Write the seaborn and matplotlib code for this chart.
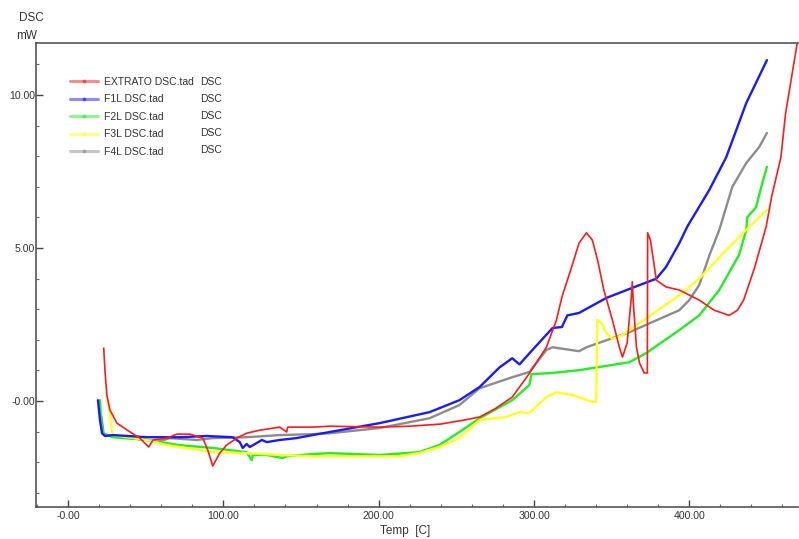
import numpy as np
import pandas as pd
import matplotlib
matplotlib.use("Agg")
import matplotlib.pyplot as plt
from matplotlib.lines import Line2D
from matplotlib.ticker import MultipleLocator, FixedLocator, FuncFormatter
import seaborn as sns

# ---------------- data ----------------
series_names = ["EXTRATO DSC.tad", "F1L DSC.tad", "F2L DSC.tad", "F3L DSC.tad", "F4L DSC.tad"]
series_tag = ["DSC", "DSC", "DSC", "DSC", "DSC"]

extrato_t = [23, 23.8, 25, 27, 31.5, 40, 46.3, 50.8, 52, 54.7, 63.7, 70, 78.5, 86.8, 90, 93.2,
             97.7, 102, 108.7, 115, 123.5, 136.3, 140.8, 141.5, 157.5, 168.5, 200, 220, 240,
             255, 265, 275, 286, 297, 308, 314.5, 318, 325, 329, 333.8, 337.6, 341, 345,
             350.5, 355, 357, 360, 362.7, 363.3, 364, 366, 368, 371, 373, 373.2, 375, 378.8,
             385, 393.6, 406.4, 416, 425.7, 431, 435, 442, 449.5, 453, 459, 462, 469.5]
extrato_v = [1.73, 1.0, 0.2, -0.29, -0.72, -1.01, -1.21, -1.44, -1.5, -1.27, -1.21, -1.08, -1.08,
             -1.21, -1.6, -2.12, -1.7, -1.44, -1.21, -1.05, -0.95, -0.85, -1.01, -0.85, -0.85,
             -0.82, -0.85, -0.82, -0.75, -0.62, -0.52, -0.25, 0.13, 0.9, 1.76, 2.65, 3.4, 4.5,
             5.16, 5.5, 5.26, 4.6, 3.63, 2.65, 1.76, 1.44, 1.9, 3.4, 3.9, 3.2, 1.76, 1.24, 0.92,
             0.92, 5.5, 5.26, 3.95, 3.73, 3.63, 3.3, 2.97, 2.8, 2.97, 3.3, 4.35, 5.7, 6.67, 7.97,
             9.4, 11.7]

f1l_t = [19.3, 20.6, 21.9, 23.8, 29, 50.8, 72, 89.4, 106, 110.6, 112.5, 115, 117, 121.5, 124.8,
         128, 136.3, 147, 157.5, 168.5, 200.6, 232.8, 252, 265, 277.8, 286, 290.7, 299, 312,
         318, 321.5, 329, 346.6, 363.3, 378.8, 385, 393.6, 398.7, 412.9, 423.8, 436.7, 450]
f1l_v = [0.03, -0.62, -1.05, -1.14, -1.11, -1.18, -1.18, -1.14, -1.18, -1.34, -1.53, -1.4, -1.5,
         -1.37, -1.27, -1.34, -1.27, -1.21, -1.11, -1.01, -0.72, -0.36, 0.03, 0.46, 1.1, 1.4,
         1.2, 1.67, 2.39, 2.42, 2.8, 2.88, 3.37, 3.7, 4.0, 4.38, 5.16, 5.7, 6.9, 7.97, 9.74,
         11.14]

f2l_t = [20.6, 21.2, 22.5, 29, 50.8, 72, 93.2, 115, 118.3, 119, 128, 138.3, 140.8, 157.5,
         168.5, 200.6, 226, 239, 252, 265, 286, 297, 298.4, 312, 329, 361.4, 372.3, 393.6,
         406.4, 419.3, 432, 436.7, 437.3, 443, 447, 450]
f2l_v = [0.03, -0.52, -1.05, -1.18, -1.27, -1.44, -1.53, -1.67, -1.93, -1.76, -1.76, -1.86,
         -1.8, -1.73, -1.7, -1.76, -1.67, -1.44, -1.01, -0.56, 0.03, 0.52, 0.88, 0.92, 1.01,
         1.27, 1.57, 2.32, 2.8, 3.63, 4.77, 5.59, 6.0, 6.34, 7.12, 7.65]

f3l_t = [25.7, 27, 28.3, 29, 50.8, 63.7, 72, 93.2, 115, 136.3, 157.5, 168.5, 213.5, 226, 239,
         252, 265, 282, 290.7, 297, 308, 314.5, 324.8, 337.6, 340, 340.8, 343.4, 346.6, 350.5,
         357, 368, 393.6, 406.4, 419.3, 436.7, 450]
f3l_v = [0.03, -0.39, -1.01, -1.11, -1.27, -1.44, -1.5, -1.67, -1.7, -1.76, -1.8, -1.8, -1.8,
         -1.7, -1.5, -1.21, -0.62, -0.52, -0.36, -0.39, 0.13, 0.29, 0.2, -0.03, -0.03, 2.65,
         2.55, 2.22, 2.03, 2.16, 2.55, 3.46, 4.0, 4.7, 5.6, 6.25]

f4l_t = [21.5, 23, 30, 50.8, 57, 65.6, 83, 93.2, 115, 136.3, 157.5, 168.5, 200.6, 232.8, 252,
         265, 286, 297, 308, 312, 329, 333.8, 361.4, 393.6, 400, 406.4, 413, 419.3, 427.7,
         436.7, 445, 450]
f4l_v = [-0.5, -1.1, -1.15, -1.27, -1.34, -1.21, -1.27, -1.21, -1.18, -1.11, -1.08, -1.05,
         -0.88, -0.56, -0.13, 0.42, 0.78, 0.95, 1.67, 1.76, 1.63, 1.76, 2.25, 2.97, 3.3, 3.79,
         4.77, 5.59, 7.0, 7.78, 8.3, 8.76]

series_t = [extrato_t, f1l_t, f2l_t, f3l_t, f4l_t]
series_v = [extrato_v, f1l_v, f2l_v, f3l_v, f4l_v]
colors = ["#ff1a1a", "#1a1aff", "#22ee22", "#ffff22", "#8c8c8c"]
widths = [1.2, 1.7, 1.7, 1.7, 1.7]

x_major = [0, 100, 200, 300, 400]
x_labels = ["-0.00", "100.00", "200.00", "300.00", "400.00"]
y_major = [0, 5, 10]
y_labels = ["-0.00", "5.00", "10.00"]

# ---------------- figure ----------------
sns.set_theme(style="white")
plt.rcParams['font.family'] = ['Liberation Sans Narrow', 'Liberation Sans', 'DejaVu Sans']

W, H = 799, 539
fig = plt.figure(figsize=(W / 100, H / 100), dpi=100)
ax = fig.add_axes([36 / W, 1 - 507 / H, (798 - 36) / W, (507 - 43) / H])

rows = []
for name, t, v in zip(series_names, series_t, series_v):
    for i, (a, b) in enumerate(zip(t, v)):
        rows.append({"sample": name, "order": i, "temp": a, "dsc": b})
df = pd.DataFrame(rows)

draw_order = [4, 2, 3, 1, 0]
for k in draw_order:
    sub = df[df["sample"] == series_names[k]]
    sns.lineplot(data=sub, x="temp", y="dsc", sort=False, estimator=None,
                 color=colors[k], linewidth=widths[k], ax=ax, legend=False)

ax.set_xlim(-20.6, 470)
ax.set_ylim(-3.46, 11.7)

ax.xaxis.set_major_locator(FixedLocator(x_major))
ax.xaxis.set_major_formatter(FuncFormatter(lambda v, p: x_labels[x_major.index(int(round(v)))] if int(round(v)) in x_major else ""))
ax.xaxis.set_minor_locator(MultipleLocator(20))
ax.yaxis.set_major_locator(FixedLocator(y_major))
ax.yaxis.set_major_formatter(FuncFormatter(lambda v, p: y_labels[y_major.index(int(round(v)))] if int(round(v)) in y_major else ""))
ax.yaxis.set_minor_locator(MultipleLocator(1))

ax.tick_params(which="major", direction="in", length=5, width=1.0, color="#444444",
               labelsize=7.6, labelcolor="#333333", bottom=True, left=True)
ax.tick_params(which="minor", direction="in", length=2.5, width=0.8, color="#666666",
               bottom=True, left=True)
ax.tick_params(axis="x", which="major", pad=3)
ax.tick_params(axis="y", which="major", pad=0.5)

for side in ["left", "bottom", "top"]:
    ax.spines[side].set_color("#555555")
    ax.spines[side].set_linewidth(1.2)
ax.spines["right"].set_visible(False)

ax.set_xlabel("")
ax.set_ylabel("")
fig.text(405 / W, 1 - 531 / H, "Temp  [C]", fontsize=8.5, color="#333333", ha="center", va="center")
fig.text(31 / W, 1 - 18 / H, "DSC", fontsize=8.5, color="#333333", ha="center", va="center")
fig.text(27 / W, 1 - 36 / H, "mW", fontsize=8.5, color="#333333", ha="center", va="center")

# legend
handles = [Line2D([0], [0], color=c, alpha=0.5, linewidth=2.2, marker="o", markersize=1.8,
                  markerfacecolor=c, markeredgecolor=c) for c in colors]
leg = ax.legend(handles, series_names, loc="upper left",
                bbox_to_anchor=(70 / W, 1 - 77 / H), bbox_transform=fig.transFigure,
                frameon=False, fontsize=7.5, handlelength=2.65, handletextpad=0.6,
                labelspacing=0.72, numpoints=1, borderaxespad=0, borderpad=0)
for t in leg.get_texts():
    t.set_color("#333333")
ys = [82, 99, 116, 133, 150]
for y, tag in zip(ys, series_tag):
    fig.text(200 / W, 1 - y / H, tag, fontsize=7.5, color="#333333", ha="left", va="center")

fig.savefig("out.png", dpi=100)
